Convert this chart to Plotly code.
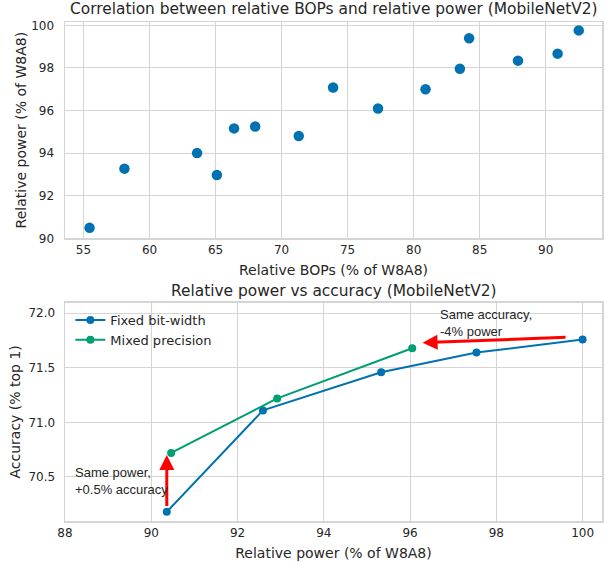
import plotly.graph_objects as go

# Top chart data
bops = [55.46, 58.1, 63.6, 65.1, 66.4, 68.0, 71.3, 73.9, 77.3, 80.9, 83.5, 84.2, 87.9, 90.9, 92.5]
power = [90.49, 93.27, 94.0, 92.97, 95.16, 95.25, 94.8, 97.08, 96.09, 97.0, 97.96, 99.39, 98.34, 98.67, 99.76]

# Bottom chart data
fixed_power = [90.36, 92.59, 95.33, 97.54, 100.0]
fixed_acc = [70.18, 71.11, 71.46, 71.64, 71.76]
mixed_power = [90.46, 92.92, 96.05]
mixed_acc = [70.72, 71.22, 71.68]

BLUE = "#0072B2"
GREEN = "#009E73"
GRID = "#d5d5d5"
TXT = "#262626"
FONT = "DejaVu Sans"

fig = go.Figure()
fig.add_trace(go.Scatter(x=bops, y=power, mode="markers", xaxis="x", yaxis="y",
                         marker=dict(color=BLUE, size=10.5), showlegend=False))
fig.add_trace(go.Scatter(x=fixed_power, y=fixed_acc, mode="lines+markers", xaxis="x2", yaxis="y2",
                         name="Fixed bit-width", line=dict(color=BLUE, width=2),
                         marker=dict(color=BLUE, size=8)))
fig.add_trace(go.Scatter(x=mixed_power, y=mixed_acc, mode="lines+markers", xaxis="x2", yaxis="y2",
                         name="Mixed precision", line=dict(color=GREEN, width=2),
                         marker=dict(color=GREEN, size=8)))

W, H = 609, 562
L, R, T, B = 65, 7, 22, 41
plot_h = H - T - B
def frac(page_y):
    return (H - B - page_y) / plot_h

axcommon = dict(showgrid=True, gridcolor=GRID, gridwidth=1, showline=True, linecolor=GRID,
                linewidth=1.5, mirror=True, zeroline=False, ticks="", automargin=False,
                tickfont=dict(family=FONT, size=12, color=TXT),
                title_font=dict(family=FONT, size=14, color=TXT))

fig.update_layout(
    width=W, height=H,
    margin=dict(l=L, r=R, t=T, b=B),
    paper_bgcolor="white", plot_bgcolor="white",
    font=dict(family=FONT, color=TXT),
    hovermode=False,
    xaxis=dict(domain=[0, 1], anchor="y", range=[53.6, 94.26], tickvals=[55, 60, 65, 70, 75, 80, 85, 90],
               title=dict(text="Relative BOPs (% of W8A8)", standoff=9), **axcommon),
    yaxis=dict(domain=[frac(238.3), 1], anchor="x", range=[90.0, 100.155], tickvals=[90, 92, 94, 96, 98, 100],
               ticklabelstandoff=7,
               title=dict(text="Relative power (% of W8A8)", standoff=1), **axcommon),
    xaxis2=dict(domain=[0, 1], anchor="y2", range=[88, 100.45], tickvals=[88, 90, 92, 94, 96, 98, 100],
                title=dict(text="Relative power (% of W8A8)", standoff=9), **axcommon),
    yaxis2=dict(domain=[0, frac(302.7)], anchor="x2", range=[70.096, 72.097],
                tickvals=[70.5, 71.0, 71.5, 72.0], ticktext=["70.5", "71.0", "71.5", "72.0"],
                ticklabelstandoff=6,
                title=dict(text="Accuracy (% top 1)", standoff=4), **axcommon),
    legend=dict(x=0.01, y=frac(305), xref="paper", yref="paper", xanchor="left", yanchor="top",
                bgcolor="rgba(255,255,255,0)", font=dict(family=FONT, size=13, color=TXT),
                tracegroupgap=2, itemwidth=30),
    showlegend=True,
)

annotations = [
    dict(text="Correlation between relative BOPs and relative power (MobileNetV2)", xref="paper", yref="paper",
         x=0.5, y=1, yshift=2, xanchor="center", yanchor="bottom", showarrow=False,
         font=dict(family=FONT, size=15.4, color=TXT)),
    dict(text="Relative power vs accuracy (MobileNetV2)", xref="paper", yref="paper",
         x=0.5, y=frac(302.7), yshift=1, xanchor="center", yanchor="bottom", showarrow=False,
         font=dict(family=FONT, size=15.4, color=TXT)),
    # arrows
    dict(x=90.36, y=70.70, ax=90.36, ay=70.22, xref="x2", yref="y2", axref="x2", ayref="y2",
         showarrow=True, arrowhead=2, arrowsize=1, arrowwidth=3, arrowcolor="red", text=""),
    dict(x=96.29, y=71.73, ax=99.64, ay=71.78, xref="x2", yref="y2", axref="x2", ayref="y2",
         showarrow=True, arrowhead=2, arrowsize=1, arrowwidth=3, arrowcolor="red", text=""),
    dict(text="Same power,<br>+0.5% accuracy", x=88.18, y=70.46, xref="x2", yref="y2",
         xanchor="left", yanchor="middle", align="left", showarrow=False,
         font=dict(family="Liberation Sans", size=13, color=TXT)),
    dict(text="Same accuracy,<br>-4% power", x=96.65, y=71.915, xref="x2", yref="y2",
         xanchor="left", yanchor="middle", align="left", showarrow=False,
         font=dict(family="Liberation Sans", size=13, color=TXT)),
]
fig.update_layout(annotations=annotations)

# remove the browser's default body margin so the figure fills the window exactly
fig.write_html("out.html", config={"displayModeBar": False, "staticPlot": True},
               post_script="document.body.style.margin='0';")
